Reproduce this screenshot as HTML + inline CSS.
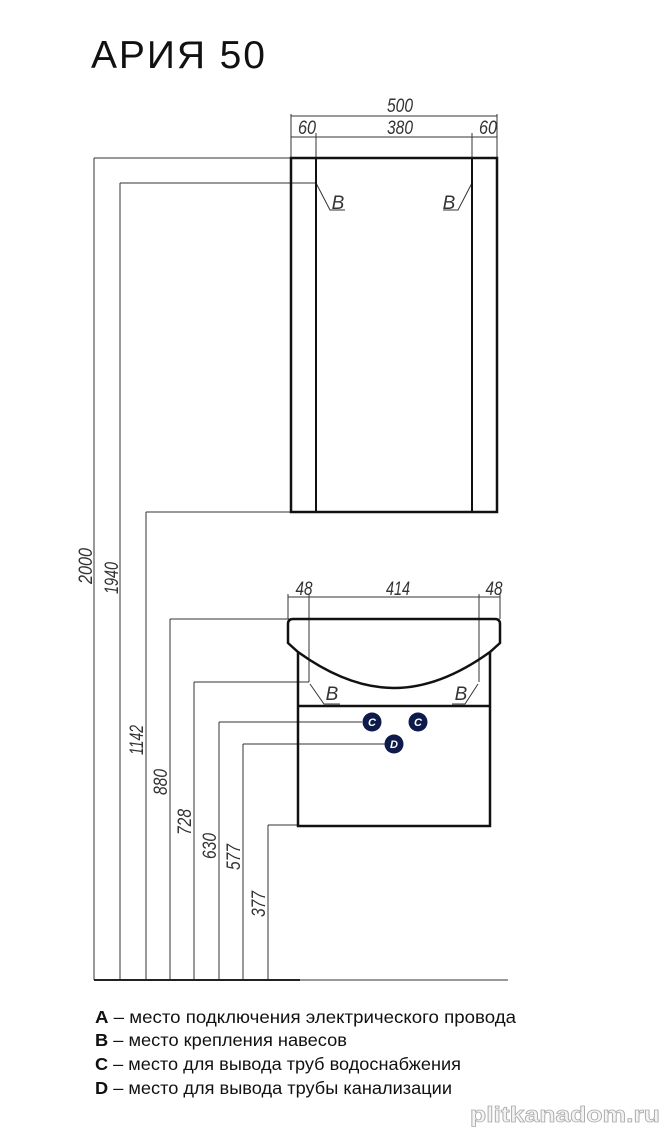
<!DOCTYPE html>
<html><head><meta charset="utf-8"><style>
html,body{margin:0;padding:0;background:#fff;}
svg{display:block;}
</style></head><body>
<svg width="661" height="1129" viewBox="0 0 661 1129" xmlns="http://www.w3.org/2000/svg" font-family="Liberation Sans, DejaVu Sans, sans-serif">
<text x="91" y="68" font-size="39" fill="#111" textLength="174">АРИЯ 50</text>
<g stroke="#333" stroke-width="1" fill="none">
<line x1="94" y1="158" x2="94" y2="980"/>
<line x1="120" y1="183" x2="120" y2="980"/>
<line x1="146" y1="512" x2="146" y2="980"/>
<line x1="170" y1="619" x2="170" y2="980"/>
<line x1="194" y1="682" x2="194" y2="980"/>
<line x1="219" y1="722" x2="219" y2="980"/>
<line x1="243" y1="744" x2="243" y2="980"/>
<line x1="268" y1="825" x2="268" y2="980"/>
<line x1="94" y1="158" x2="291" y2="158"/>
<line x1="120" y1="183" x2="316" y2="183"/>
<line x1="146" y1="512" x2="291" y2="512"/>
<line x1="170" y1="619" x2="290" y2="619"/>
<line x1="194" y1="682" x2="309" y2="682"/>
<line x1="219" y1="722" x2="362" y2="722"/>
<line x1="243" y1="744" x2="385" y2="744"/>
<line x1="268" y1="825" x2="298" y2="825"/>
<line x1="94" y1="980" x2="508" y2="980"/>
<line x1="291" y1="114" x2="291" y2="158"/>
<line x1="497" y1="114" x2="497" y2="158"/>
<line x1="316" y1="133" x2="316" y2="158"/>
<line x1="472" y1="133" x2="472" y2="158"/>
<line x1="291" y1="116" x2="497" y2="116"/>
<line x1="291" y1="137" x2="497" y2="137"/>
<line x1="288" y1="594" x2="288" y2="619"/>
<line x1="500" y1="594" x2="500" y2="619"/>
<line x1="309" y1="594" x2="309" y2="682"/>
<line x1="479" y1="594" x2="479" y2="682"/>
<line x1="288" y1="597" x2="500" y2="597"/>
<polyline points="316,183 330,210 345,210"/>
<polyline points="472,183 458,210 443,210"/>
<polyline points="310,684 324,704 340,704"/>
<polyline points="478,684 465,704 452,704"/>
</g>
<line x1="94" y1="980" x2="300" y2="980" stroke="#222" stroke-width="2"/>
<g fill="#333" font-size="19" font-style="italic" text-anchor="middle">
<text x="400" y="112" textLength="26" lengthAdjust="spacingAndGlyphs">500</text>
<text x="400" y="134" textLength="26" lengthAdjust="spacingAndGlyphs">380</text>
<text x="307" y="134" textLength="18" lengthAdjust="spacingAndGlyphs">60</text>
<text x="488" y="134" textLength="18" lengthAdjust="spacingAndGlyphs">60</text>
<text x="398" y="595" textLength="24" lengthAdjust="spacingAndGlyphs">414</text>
<text x="304" y="595" textLength="17" lengthAdjust="spacingAndGlyphs">48</text>
<text x="494" y="595" textLength="17" lengthAdjust="spacingAndGlyphs">48</text>
<text x="338" y="209">B</text>
<text x="449" y="209">B</text>
<text x="332" y="700">B</text>
<text x="461" y="700">B</text>
</g>
<g fill="#333" font-size="19" font-style="italic" text-anchor="middle">
<text transform="translate(92,566) rotate(-90)" textLength="36" lengthAdjust="spacingAndGlyphs">2000</text>
<text transform="translate(118,578) rotate(-90)" textLength="32" lengthAdjust="spacingAndGlyphs">1940</text>
<text transform="translate(143,740) rotate(-90)" textLength="30" lengthAdjust="spacingAndGlyphs">1142</text>
<text transform="translate(167,782) rotate(-90)" textLength="26" lengthAdjust="spacingAndGlyphs">880</text>
<text transform="translate(191,822) rotate(-90)" textLength="26" lengthAdjust="spacingAndGlyphs">728</text>
<text transform="translate(216,846) rotate(-90)" textLength="26" lengthAdjust="spacingAndGlyphs">630</text>
<text transform="translate(240,857) rotate(-90)" textLength="26" lengthAdjust="spacingAndGlyphs">577</text>
<text transform="translate(265,904) rotate(-90)" textLength="26" lengthAdjust="spacingAndGlyphs">377</text>
</g>
<g stroke="#111" stroke-width="2.5" fill="none">
<rect x="291" y="158" width="206" height="354"/>
<line x1="316" y1="158" x2="316" y2="512" stroke-width="2"/>
<line x1="472" y1="158" x2="472" y2="512" stroke-width="2"/>
<path d="M293,619 L495,619 Q500,619 500,624 L500,643 L490,652 Q440,688 394,688 Q348,688 298,652 L288,643 L288,624 Q288,619 293,619 Z"/>
<path d="M298,652 L298,826 L490,826 L490,652"/>
<line x1="298" y1="706" x2="490" y2="706"/>
</g>
<g fill="#0d1a4a">
<circle cx="372" cy="722" r="9.5"/>
<circle cx="418" cy="722" r="9.5"/>
<circle cx="394" cy="744" r="9.5"/>
</g>
<g fill="#fff" font-size="11" font-style="italic" font-weight="bold" text-anchor="middle">
<text x="372" y="726">C</text><text x="418" y="726">C</text><text x="394" y="748">D</text>
</g>
<g font-size="17.5" fill="#111">
<text x="95" y="1023" textLength="421" lengthAdjust="spacingAndGlyphs"><tspan font-weight="bold">A</tspan> – место подключения электрического провода</text>
<text x="95" y="1046" textLength="252" lengthAdjust="spacingAndGlyphs"><tspan font-weight="bold">B</tspan> – место крепления навесов</text>
<text x="95" y="1070" textLength="366" lengthAdjust="spacingAndGlyphs"><tspan font-weight="bold">C</tspan> – место для вывода труб водоснабжения</text>
<text x="95" y="1094" textLength="357" lengthAdjust="spacingAndGlyphs"><tspan font-weight="bold">D</tspan> – место для вывода трубы канализации</text>
</g>
<text x="470" y="1122" font-size="22" font-weight="bold" fill="#f4f4f4" stroke="#aaa" stroke-width="0.8" textLength="190" lengthAdjust="spacingAndGlyphs">plitkanadom.ru</text>
</svg>
</body></html>
